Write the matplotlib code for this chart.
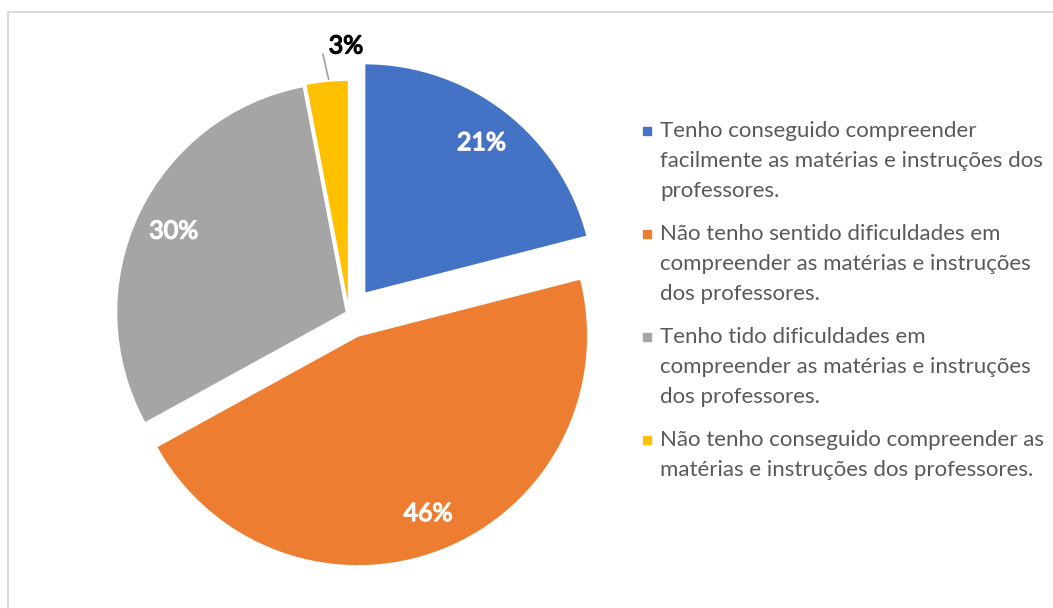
import numpy as np
import matplotlib
matplotlib.use("Agg")
import matplotlib.pyplot as plt
from matplotlib.lines import Line2D
import matplotlib.patheffects as pe

categories = [
    "Tenho conseguido compreender\nfacilmente as matérias e instruções dos\nprofessores.",
    "Não tenho sentido dificuldades em\ncompreender as matérias e instruções\ndos professores.",
    "Tenho tido dificuldades em\ncompreender as matérias e instruções\ndos professores.",
    "Não tenho conseguido compreender as\nmatérias e instruções dos professores.",
]
values = [21, 46, 30, 3]
pct_labels = ["21%", "46%", "30%", "3%"]
colors = ["#4472C4", "#ED7D31", "#A5A5A5", "#FFC000"]
explode = [0.11, 0.105, 0.012, 0.015]

W, H = 1053, 608
fig = plt.figure(figsize=(W / 100, H / 100), dpi=100)
FONT = "Lato"

def bold_fx(color):
    # emulate a heavier weight by stroking the glyph outlines
    return [pe.withStroke(linewidth=1.0, foreground=color)]

# pie axes: center (349, 313.5) px, radius 230 px
cx, cy, R = 349, 313.5, 230
half = 300
ax = fig.add_axes([(cx - half) / W, (H - cy - half) / H, 2 * half / W, 2 * half / H])

wedges, _ = ax.pie(values, colors=colors, explode=explode, startangle=90,
                   counterclock=False, radius=1,
                   wedgeprops=dict(linewidth=1.2, edgecolor="white"))
ax.set_xlim(-half / R, half / R)
ax.set_ylim(-half / R, half / R)
ax.set_aspect("equal")
ax.axis("off")

pctdist = 0.83
for w, lab, ex in zip(wedges, pct_labels, explode):
    mid = np.deg2rad((w.theta1 + w.theta2) / 2)
    dx, dy = np.cos(mid), np.sin(mid)
    if lab == "3%":
        bx, by = dx * 1.02, dy * 1.02
        ax.plot([bx + 0.008, bx - 0.018], [by, by + 0.115], color="#A5A5A5", lw=1.3,
                solid_capstyle="butt")
        ax.text(bx + 0.083, by + 0.148, lab, ha="center", va="center",
                fontsize=18, color="black", family=FONT, path_effects=bold_fx("black"))
    else:
        ax.text(dx * (pctdist + ex), dy * (pctdist + ex), lab, ha="center", va="center",
                fontsize=18, color="white", family=FONT, path_effects=bold_fx("white"))

# legend (manual, marker aligned to first line)
lx_marker, lx_text = 646.5, 660
y = 131
line_step, entry_gap = 29.8, 43.5
for cat, col in zip(categories, colors):
    lines = cat.split("\n")
    fig.add_artist(Line2D([lx_marker / W], [1 - y / H], marker="s", markersize=6.2,
                          color=col, linestyle="none", transform=fig.transFigure))
    for i, ln in enumerate(lines):
        fig.text(lx_text / W, 1 - (y + i * line_step) / H, ln, ha="left", va="center",
                 fontsize=16, color="#595959", family=FONT)
    y += (len(lines) - 1) * line_step + entry_gap

# chart border (top and left visible)
fig.add_artist(Line2D([7.5 / W, 7.5 / W, 1.0], [0.0, 1 - 11.5 / H, 1 - 11.5 / H],
                      color="#D9D9D9", lw=1.5, transform=fig.transFigure))

fig.savefig("out.png", dpi=100)
